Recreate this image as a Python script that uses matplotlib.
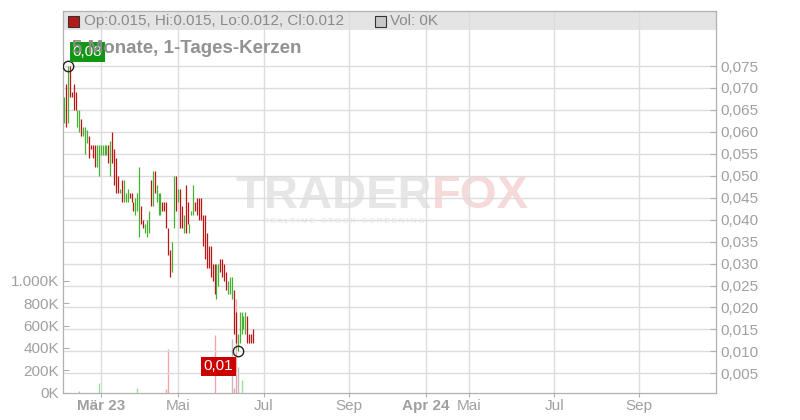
import matplotlib
matplotlib.use("Agg")
import matplotlib.pyplot as plt
from matplotlib.patches import Rectangle
import numpy as np

plt.rcParams["font.family"] = ["Liberation Sans", "DejaVu Sans"]

# daily bars, oldest first: high, low, up (1 = green, 0 = red)
highs = [0.068, 0.071, 0.075, 0.075, 0.069, 0.071, 0.069, 0.065, 0.065, 0.063,
         0.061, 0.061, 0.0605, 0.059, 0.057, 0.057, 0.057, 0.057, 0.057, 0.057,
         0.057, 0.057, 0.057, 0.057, 0.058, 0.060, 0.056, 0.054, 0.050, 0.047,
         0.049, 0.049, 0.046, 0.047, 0.046, 0.046, 0.044, 0.045, 0.046, 0.052,
         0.043, 0.040, 0.039, 0.040, 0.042, 0.049, 0.051, 0.051, 0.048, 0.046,
         0.046, 0.044, 0.044, 0.044, 0.038, 0.033, 0.035, 0.050, 0.050, 0.047,
         0.047, 0.043, 0.041, 0.048, 0.044, 0.039, 0.042, 0.048, 0.044, 0.045,
         0.045, 0.045, 0.041, 0.041, 0.037, 0.034, 0.034, 0.030, 0.030, 0.030,
         0.030, 0.031, 0.031, 0.030, 0.028, 0.026, 0.027, 0.027, 0.024, 0.019,
         0.014, 0.019, 0.019, 0.018, 0.019, 0.018, 0.014, 0.014, 0.015]
lows = [0.062, 0.061, 0.062, 0.068, 0.068, 0.065, 0.065, 0.061, 0.060, 0.059,
        0.059, 0.055, 0.0575, 0.054, 0.056, 0.054, 0.052, 0.052, 0.050, 0.0547,
        0.0547, 0.0547, 0.0547, 0.053, 0.050, 0.053, 0.048, 0.046, 0.046, 0.046,
        0.044, 0.044, 0.044, 0.044, 0.045, 0.044, 0.042, 0.041, 0.042, 0.036,
        0.039, 0.038, 0.037, 0.036, 0.037, 0.043, 0.043, 0.046, 0.044, 0.041,
        0.041, 0.042, 0.042, 0.038, 0.032, 0.027, 0.028, 0.038, 0.042, 0.044,
        0.038, 0.038, 0.037, 0.037, 0.039, 0.037, 0.041, 0.041, 0.042, 0.041,
        0.040, 0.040, 0.034, 0.031, 0.029, 0.029, 0.027, 0.026, 0.023, 0.022,
        0.025, 0.028, 0.027, 0.026, 0.024, 0.023, 0.023, 0.022, 0.014, 0.012,
        0.010, 0.012, 0.014, 0.015, 0.014, 0.012, 0.012, 0.012, 0.012]
ups = [1, 0, 1, 0, 0, 0, 0, 1, 1, 0,
       1, 1, 1, 0, 0, 0, 0, 1, 1, 1,
       1, 1, 1, 0, 1, 0, 0, 0, 0, 1,
       0, 1, 1, 1, 0, 0, 0, 1, 1, 1,
       0, 0, 1, 1, 1, 0, 1, 0, 1, 1,
       1, 0, 0, 0, 0, 0, 1, 1, 0, 1,
       0, 0, 1, 0, 0, 1, 1, 1, 0, 0,
       0, 0, 0, 0, 0, 0, 0, 0, 0, 1,
       1, 0, 0, 0, 0, 1, 1, 1, 0, 0,
       1, 1, 1, 1, 1, 0, 0, 0, 0]

# volume (in K) on the few days that traded
vol_idx = [8, 18, 38, 53, 54, 78, 87, 88, 89, 90, 92]
vol_k = [9, 81, 36, 27, 387, 513, 477, 36, 838, 225, 112]
vol_kind = ["n", "u", "u", "d", "d", "d", "n", "d", "d", "n", "u"]

month_labels = ["Mär 23", "Mai", "Jul", "Sep", "Apr 24", "Mai", "Jul", "Sep"]
price_ticks = [0.005, 0.010, 0.015, 0.020, 0.025, 0.030, 0.035, 0.040,
               0.045, 0.050, 0.055, 0.060, 0.065, 0.070, 0.075]
vol_ticks = [0, 200, 400, 600, 800, 1000]

# ---- layout ----
month_pos = [19.2, 59.1, 103.6, 147.7, 187.6, 209.8, 253.9, 297.9]
GRID = "#dcdcdc"
LBL = "#a0a0a0"
SPINE = "#b0b0b0"
RED = "#bb1515"
GREEN = "#48b032"
vol_colors = {"u": "#9ee09a", "d": "#f2a5ad", "n": "#bdbdbd"}


def fmt2(v):
    # round half up, German decimal comma
    return f"{v + 1e-9:.2f}".replace(".", ",")


fig = plt.figure(figsize=(8, 4.2), dpi=100)
ax = fig.add_axes([63 / 800, 27.5 / 420, 653 / 800, 381.5 / 420])
ax.set_xlim(-0.5, 337.8)
ax.set_ylim(0, 3421)

# header band
ax.add_patch(Rectangle((0, 0.95), 1, 0.05, transform=ax.transAxes,
                       facecolor="#e4e4e4", edgecolor="none", zorder=0.5))

# watermark
ax.text(0.565, 0.515, "TRADER", transform=ax.transAxes, fontsize=34,
        fontweight="bold", color="#e6e6e6", ha="right", va="center", zorder=0.6)
ax.text(0.565, 0.515, "FOX", transform=ax.transAxes, fontsize=34,
        fontweight="bold", color="#f6dada", ha="left", va="center", zorder=0.6)
ax.text(0.43, 0.447, "R E A L T I M E   S T O C K   S C R E E N I N G",
        transform=ax.transAxes, fontsize=5.5, color="#e4e4e4",
        ha="center", va="center", zorder=0.6)

for xp in month_pos:
    ax.axvline(xp, color=GRID, lw=1, zorder=0.8)

# volume bars
ax.vlines(vol_idx, 0, vol_k, colors=[vol_colors[k] for k in vol_kind],
          lw=1.0, zorder=1)

ax.set_yticks(vol_ticks)
ax.set_yticklabels([f"{v // 1000}.{v % 1000:03d}K" if v >= 1000 else f"{v}K"
                    for v in vol_ticks])
ax.tick_params(axis="y", direction="in", length=4, color=SPINE,
               labelcolor=LBL, labelsize=11, pad=3)
ax.set_xticks(month_pos)
ax.set_xticklabels(month_labels)
ax.tick_params(axis="x", direction="out", length=3, color=SPINE,
               labelcolor=LBL, labelsize=11, pad=2)
for t in ax.get_xticklabels():
    if " " in t.get_text():
        t.set_fontweight("bold")
for s in ax.spines.values():
    s.set_color(SPINE)

# price axis
axp = ax.twinx()
axp.set_ylim(0.000626, 0.08753)
axp.set_xlim(ax.get_xlim())
for p in price_ticks:
    axp.axhline(p, color=GRID, lw=1, zorder=0.8)
ax.set_zorder(0)
axp.set_zorder(1)
axp.patch.set_visible(False)

x = np.arange(len(highs))
axp.vlines(x, lows, highs, colors=[GREEN if u else RED for u in ups],
           lw=0.9, zorder=3)

axp.set_yticks(price_ticks)
axp.set_yticklabels([f"{p:.3f}".replace(".", ",") for p in price_ticks])
axp.tick_params(axis="y", direction="in", length=4, color=SPINE,
                labelcolor=LBL, labelsize=11, pad=3)
for s in axp.spines.values():
    s.set_color(SPINE)

# max / min markers
imax = int(np.argmax(highs))
imin = int(np.argmin(lows))
axp.plot([imax, imin], [highs[imax], lows[imin]], "o", ms=7.5, mfc="none",
         mec="#222222", mew=1, zorder=5)
axp.annotate(fmt2(highs[imax]), (imax, highs[imax]),
             xytext=(19.5, 14), textcoords="offset pixels", ha="center",
             va="center", color="white", fontsize=11, zorder=6,
             bbox=dict(boxstyle="square,pad=0.18", fc="#139613", ec="none"))
axp.annotate(fmt2(lows[imin]), (imin, lows[imin]),
             xytext=(-19.5, -15), textcoords="offset pixels", ha="center",
             va="center", color="white", fontsize=11, zorder=6,
             bbox=dict(boxstyle="square,pad=0.18", fc="#cc0000", ec="none"))

axp.text(0.0138, 0.903, "5 Monate, 1-Tages-Kerzen", transform=axp.transAxes,
         fontsize=13.5, fontweight="bold", color="#8c8c8c", alpha=0.95,
         ha="left", va="center", zorder=7)

# header legend
fig.patches.append(Rectangle((68 / 800, 393 / 420), 11 / 800, 11 / 420,
                             transform=fig.transFigure, fc="#b51a1a",
                             ec="#333333", lw=0.8))
fig.text(84 / 800, 399 / 420, "Op:0.015, Hi:0.015, Lo:0.012, Cl:0.012",
         fontsize=11, color="#8a8a8a", va="center", ha="left")
fig.patches.append(Rectangle((375 / 800, 393 / 420), 11 / 800, 11 / 420,
                             transform=fig.transFigure, fc="#c8c8c8",
                             ec="#333333", lw=0.8))
fig.text(390 / 800, 399 / 420, "Vol: 0K", fontsize=11, color="#8a8a8a",
         va="center", ha="left")

fig.savefig("out.png", dpi=100)
